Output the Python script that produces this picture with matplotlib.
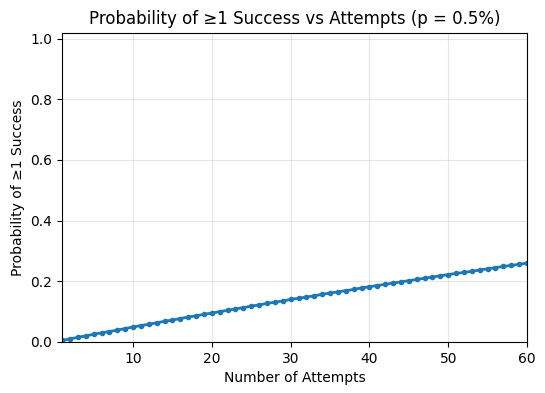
import matplotlib
matplotlib.use("Agg")
import matplotlib.pyplot as plt

attempts = list(range(1, 61))
prob = [0.005, 0.010, 0.015, 0.020, 0.025, 0.030, 0.034, 0.039, 0.044, 0.049,
        0.054, 0.058, 0.063, 0.068, 0.072, 0.077, 0.082, 0.086, 0.091, 0.095,
        0.100, 0.104, 0.109, 0.113, 0.118, 0.122, 0.127, 0.131, 0.135, 0.140,
        0.144, 0.148, 0.152, 0.157, 0.161, 0.165, 0.169, 0.173, 0.178, 0.182,
        0.186, 0.190, 0.194, 0.198, 0.202, 0.206, 0.210, 0.214, 0.218, 0.222,
        0.226, 0.229, 0.233, 0.237, 0.241, 0.245, 0.249, 0.252, 0.256, 0.260]

fig = plt.figure(figsize=(5.45, 3.93), dpi=100)
ax = fig.add_axes([0.114, 0.130, 0.853, 0.787])
ax.plot(attempts, prob, marker='o', markersize=3, linewidth=2, color='#1f77b4')
ax.set_xlim(1, 60)
ax.set_ylim(0, 1.02)
ax.set_xticks([10, 20, 30, 40, 50, 60])
ax.set_yticks([0.0, 0.2, 0.4, 0.6, 0.8, 1.0])
ax.grid(True, alpha=0.3)
ax.set_xlabel("Number of Attempts")
ax.set_ylabel("Probability of ≥1 Success")
ax.set_title("Probability of ≥1 Success vs Attempts (p = 0.5%)")
fig.savefig("out.png", dpi=100)
